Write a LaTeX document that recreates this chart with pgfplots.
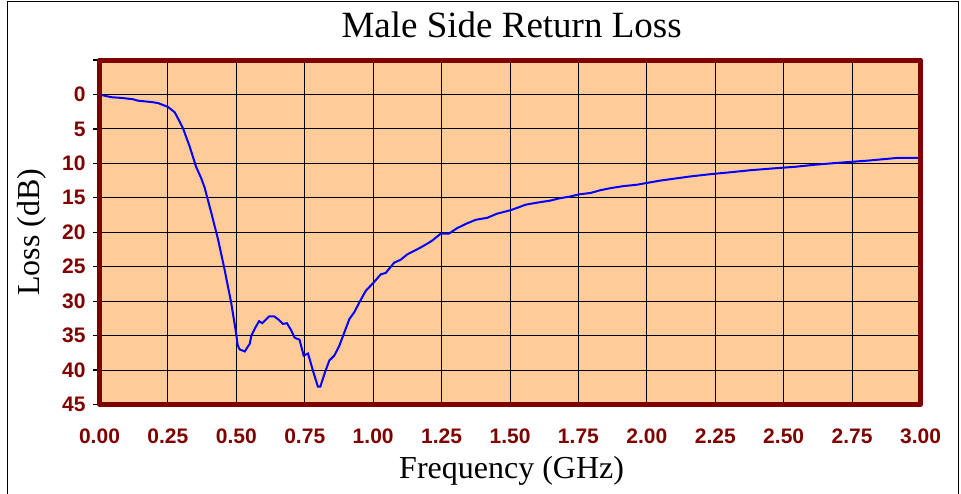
\documentclass[border=0pt]{standalone}
\usepackage{pgfplots}
\pgfplotsset{compat=1.18}
\usepackage{fontspec}
\setmainfont{Liberation Serif}
\setsansfont{Liberation Sans}
\definecolor{peach}{HTML}{FFCC99}
\definecolor{maroon}{HTML}{800000}
\begin{document}
\begin{tikzpicture}
\useasboundingbox (-49.75pt,-44.25pt) rectangle (430.75pt,202.25pt);
\draw[black, line width=0.8pt] (-46pt,-60pt) -- (-46pt,201.5pt) -- (429.5pt,201.5pt) -- (429.5pt,-60pt);
\begin{axis}[
  at={(0pt,0pt)}, anchor=south west,
  scale only axis, width=410.5pt, height=172.25pt,
  xmin=0, xmax=3, ymin=-5, ymax=45, y dir=reverse,
  axis background/.style={fill=peach},
  axis line style={draw=none},
  xtick={0,0.25,...,3.01},
  ytick={-5,0,5,10,15,20,25,30,35,40,45},
  yticklabels={,0,5,10,15,20,25,30,35,40,45},
  ytick pos=left,
  grid=major,
  major grid style={black, line width=0.5pt},
  tick align=outside,
  major tick length=3pt,
  xtick style={draw=none},
  ytick style={black, line width=0.6pt},
  /pgf/number format/assume math mode=true,
  ticklabel style={font=\sffamily\bfseries\fontsize{10.5}{12}\selectfont, text=maroon},
  xticklabel style={/pgf/number format/fixed, /pgf/number format/fixed zerofill, /pgf/number format/precision=2, yshift=-5.5pt},
  yticklabel style={xshift=-0.5pt},
  title={Male Side Return Loss},
  title style={font=\fontsize{18.5}{22}\selectfont, at={(axis description cs:0.502,1)}, anchor=center, yshift=11.5pt},
  xlabel={Frequency (GHz)},
  xlabel style={font=\fontsize{16}{19}\selectfont, at={(axis description cs:0.502,-0.193)}, anchor=center},
  ylabel={Loss (dB)},
  ylabel style={font=\fontsize{16}{19}\selectfont, at={(axis description cs:-0.083,0.5)}, anchor=center},
  after end axis/.code={
    \draw[maroon, line width=2.5pt, line join=round] (rel axis cs:0,0) rectangle (rel axis cs:1,1);
  },
]
\addplot[blue, line width=1pt] coordinates {
(0.000,0.0) (0.020,0.2) (0.044,0.4) (0.080,0.5) (0.123,0.7) (0.140,0.9)
(0.165,1.0) (0.190,1.1) (0.214,1.25) (0.230,1.5) (0.250,1.8) (0.275,2.6)
(0.287,3.5) (0.305,4.9) (0.329,7.5) (0.353,10.5) (0.372,12.2) (0.384,13.5)
(0.408,17.1) (0.433,21.0) (0.457,25.4) (0.481,30.2) (0.499,34.6) (0.505,36.4)
(0.512,37.0) (0.531,37.3) (0.542,36.6) (0.549,36.2) (0.555,35.0) (0.570,33.8)
(0.583,32.9) (0.595,33.2) (0.620,32.2) (0.638,32.2) (0.655,32.7) (0.670,33.3)
(0.685,33.2) (0.700,34.2) (0.713,35.3) (0.731,35.6) (0.746,37.9) (0.762,37.6)
(0.780,40.1) (0.798,42.4) (0.807,42.4) (0.825,40.2) (0.840,38.6) (0.858,37.9)
(0.876,36.5) (0.895,34.5) (0.913,32.6) (0.931,31.6) (0.952,30.0) (0.973,28.5)
(1.004,27.2) (1.028,26.1) (1.046,25.9) (1.077,24.4) (1.100,24.0) (1.125,23.2)
(1.150,22.7) (1.174,22.2) (1.200,21.6) (1.216,21.2) (1.247,20.2) (1.277,20.2)
(1.307,19.4) (1.338,18.8) (1.374,18.2) (1.417,17.9) (1.453,17.3) (1.502,16.8)
(1.530,16.4) (1.557,16.0) (1.599,15.7) (1.648,15.4) (1.678,15.1) (1.721,14.8)
(1.751,14.5) (1.794,14.3) (1.830,13.9) (1.867,13.6) (1.915,13.3) (1.964,13.1)
(2.006,12.8) (2.049,12.5) (2.104,12.2) (2.159,11.9) (2.225,11.6) (2.304,11.3)
(2.377,11.0) (2.456,10.75) (2.541,10.5) (2.614,10.2) (2.705,9.9) (2.808,9.6)
(2.918,9.2) (3.000,9.2)
};
\end{axis}
\end{tikzpicture}
\end{document}
